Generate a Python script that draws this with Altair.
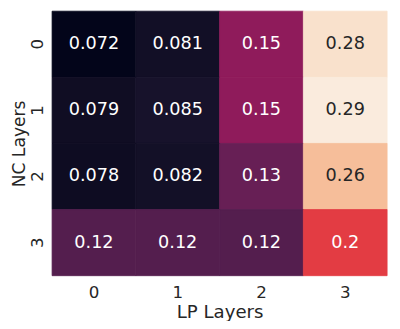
import altair as alt
import pandas as pd

lp_layers = ["0", "1", "2", "3"]
nc_layers = ["0", "1", "2", "3"]
# rows = NC layers, columns = LP layers
values = [
    [0.072, 0.081, 0.15, 0.284],
    [0.079, 0.085, 0.15, 0.29],
    [0.078, 0.082, 0.13, 0.264],
    [0.12, 0.12, 0.12, 0.2],
]
labels = [
    ["0.072", "0.081", "0.15", "0.28"],
    ["0.079", "0.085", "0.15", "0.29"],
    ["0.078", "0.082", "0.13", "0.26"],
    ["0.12", "0.12", "0.12", "0.2"],
]

# rocket colormap stops
rocket_pos = [0, 1 / 7, 2 / 7, 3 / 7, 4 / 7, 5 / 7, 6 / 7, 1]
rocket_col = ["#03051a", "#35193e", "#701f57", "#ad1759", "#e13342", "#f37651", "#f6b48f", "#faebdd"]

rows = []
for i, nc in enumerate(nc_layers):
    for j, lp in enumerate(lp_layers):
        rows.append({"LP": lp, "NC": nc, "value": values[i][j], "label": labels[i][j]})
df = pd.DataFrame(rows)

vmin = min(min(r) for r in values)
vmax = max(max(r) for r in values)
domain = [vmin + p * (vmax - vmin) for p in rocket_pos]
cscale = alt.Scale(type="linear", domain=domain, range=rocket_col)

font = "DejaVu Sans"

x = alt.X("LP:O", sort=lp_layers, title="LP Layers",
          scale=alt.Scale(paddingInner=0, paddingOuter=0),
          axis=alt.Axis(labelAngle=0, ticks=False, domain=False, grid=False, labelPadding=9,
                        titlePadding=3, labelFontSize=17, titleFontSize=18.5,
                        labelFont=font, titleFont=font, labelColor="#262626",
                        titleColor="#262626", titleFontWeight="normal"))
y = alt.Y("NC:O", sort=nc_layers, title="NC Layers",
          scale=alt.Scale(paddingInner=0, paddingOuter=0),
          axis=alt.Axis(labelAngle=-90, ticks=False, domain=False, grid=False, labelPadding=6,
                        titleX=-24, titleY=135, titleAngle=-90, titleAlign="center",
                        titleBaseline="bottom", labelFontSize=17, titleFontSize=17.5,
                        labelFont=font, titleFont=font, labelColor="#262626",
                        titleColor="#262626", titleFontWeight="normal",
                        labelAlign="center", labelBaseline="bottom"))

base = alt.Chart(df)
rect = base.mark_rect(strokeWidth=0.8).encode(
    x=x, y=y,
    color=alt.Color("value:Q", legend=None, scale=cscale),
    stroke=alt.Stroke("value:Q", legend=None, scale=cscale),
)
text = base.mark_text(font=font, fontSize=18, baseline="middle", align="center").encode(
    x=alt.X("LP:O", sort=lp_layers),
    y=alt.Y("NC:O", sort=nc_layers),
    text="label:N",
    color=alt.condition(alt.datum.value > 0.23, alt.value("#262626"), alt.value("#ffffff")),
)

chart = (rect + text).properties(
    width=342, height=270,
    autosize=alt.AutoSizeParams(type="none"),
    padding={"left": 45, "top": 0, "right": 5, "bottom": 43},
).configure_view(stroke=None)

chart.save("out.html", embed_options={"renderer": "svg", "actions": False})
